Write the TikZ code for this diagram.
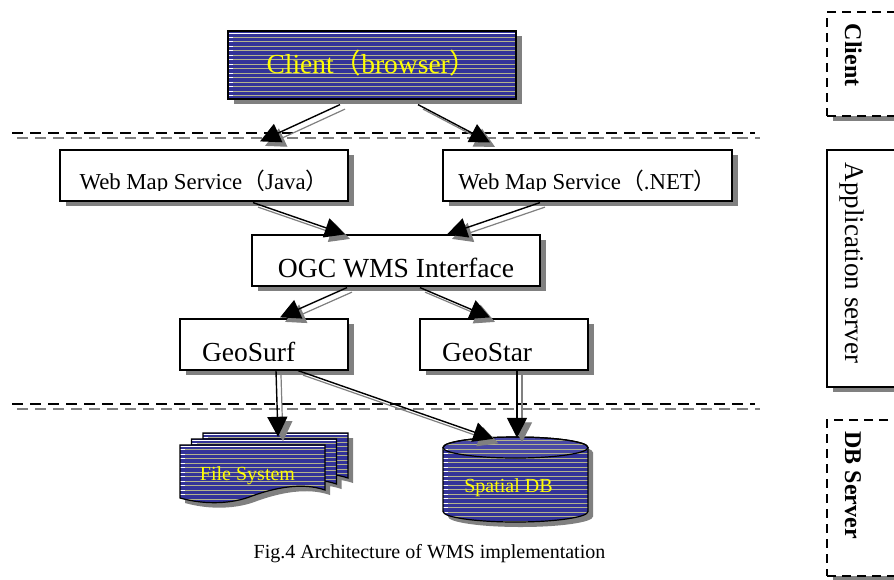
\documentclass[tikz,border=0pt]{standalone}
\usepackage{fontspec}
\setmainfont{Liberation Serif}
\newfontfamily\cjk{Noto Sans CJK SC}
\usetikzlibrary{arrows.meta,shadows}
\definecolor{dblue}{RGB}{51,51,153}
\definecolor{lblue}{RGB}{72,72,165}
\definecolor{hatchc}{RGB}{178,178,140}
\definecolor{shgray}{RGB}{128,128,128}
\definecolor{ytext}{RGB}{255,255,0}
\newcommand{\lp}{{\cjk （}}
\newcommand{\rp}{{\cjk ）}}
\newcommand{\sheetpath}{(180,445) -- (325,445) -- (325,490) .. controls (302,482) and (274,488) .. (252,496) .. controls (232,504) and (205,505) .. (180,498) -- cycle}
\newcommand{\cylbody}{(443,447.5) -- (443,511.5) arc[start angle=180,end angle=360,x radius=72.5pt,y radius=10.5pt] -- (588,447.5) arc[start angle=0,end angle=180,x radius=72.5pt,y radius=10.5pt] -- cycle}
% #1,#2: x range, #3: first y, #4: number of lines
\newcommand{\hatchlines}[4]{%
  \foreach \k in {0,...,#4}{\pgfmathsetmacro\yy{#3+4.5*\k}%
    \draw[hatchc,line width=0.7pt] (#1,\yy) -- (#2,\yy);
    \draw[white,line width=0.7pt] (#1,\yy) -- ++(5,0);}}
% white cover that cuts the text at its baseline, as in the reference
\newcommand{\textcut}[2]{\fill[white] ([xshift=1.5pt,yshift=1.5pt]#1.south west) rectangle ([xshift=-1.5pt,yshift=#2]#1.south east);}
\tikzset{
  box/.style={draw=black, line width=1.2pt, fill=white, inner xsep=0pt, inner ysep=0pt,
    drop shadow={shadow xshift=6pt, shadow yshift=-5pt, fill=shgray, opacity=1}},
  hatched/.style={fill=dblue, path picture={
    \foreach \i in {1,...,40}{
      \draw[hatchc, line width=0.7pt] ([yshift={-\i*4.5pt-1.5pt}]path picture bounding box.north west) -- ([yshift={-\i*4.5pt-1.5pt}]path picture bounding box.north east);
      \draw[white, line width=0.7pt] ([yshift={-\i*4.5pt-1.5pt}]path picture bounding box.north west) -- ([yshift={-\i*4.5pt-1.5pt},xshift=5pt]path picture bounding box.north west);}
    \draw[white, line width=0.7pt] ([yshift=-2pt]path picture bounding box.north west) -- ([yshift=-2pt]path picture bounding box.north east);}},
  conn/.style={line width=1.4pt, draw=black, -{Triangle[length=20pt,width=20pt]}},
  connsh/.style={line width=1.2pt, draw=shgray, -{Triangle[length=20pt,width=20pt]}, transform canvas={xshift=5pt,yshift=-4.5pt}},
  sep/.style={line width=2pt, dash pattern=on 10.5pt off 7.5pt},
  sidebox/.style={draw=black, line width=1.4pt, fill=white, minimum width=80pt, inner sep=0pt,
    drop shadow={shadow xshift=6pt, shadow yshift=-5pt, fill=shgray, opacity=1}},
  sidedash/.style={sidebox, dash pattern=on 9pt off 6pt},
  sidetext/.style={rotate=-90, anchor=base, inner sep=0pt},
  ytxt/.style={text=ytext, inner sep=0pt, anchor=base}
}
\newcommand{\conn}[2]{\draw[connsh] #1 -- #2; \draw[conn] #1 -- #2;}
\begin{document}
\begin{tikzpicture}[x=1pt,y=-1pt]
\useasboundingbox (0,0) rectangle (894,579);
\fill[white] (0,0) rectangle (894,579);

% separators
\draw[sep, shgray] (17,138) -- (760,138);
\draw[sep, black] (12,133) -- (755,133);
\draw[sep, shgray] (17,409) -- (760,409);
\draw[sep, black] (12,404) -- (755,404);

% nodes
\node[box, hatched, minimum width=288pt, text height=42pt, text depth=26pt, text=ytext,
  font=\fontsize{27.5}{32}\selectfont] (client) at (372,65) {Client\lp browser\rp};
\node[box, minimum width=288pt, text height=39pt, text depth=12pt,
  font=\fontsize{22.8}{26}\selectfont] (java) at (204,175.5) {Web Map Service\lp Java\rp};
\node[box, minimum width=289pt, text height=39pt, text depth=12pt,
  font=\fontsize{22.8}{26}\selectfont] (net) at (587.5,175.5) {Web Map Service\lp .NET\rp};
\node[box, minimum width=288pt, text height=42pt, text depth=9pt,
  font=\fontsize{27.6}{32}\selectfont] (ogc) at (396,260.5) {OGC WMS Interface};
\node[box, text width=124pt, inner xsep=22pt, align=left, text height=42pt, text depth=9pt,
  font=\fontsize{27.5}{32}\selectfont] (geosurf) at (264,344.5) {GeoSurf};
\node[box, text width=124pt, inner xsep=22pt, align=left, text height=42pt, text depth=9pt,
  font=\fontsize{27.5}{32}\selectfont] (geostar) at (504,344.5) {GeoStar};
\textcut{java}{11pt}
\textcut{net}{11pt}
\textcut{geosurf}{9.4pt}
\textcut{geostar}{9.4pt}

% file system stack
\foreach \dx/\dy in {23/-12, 11.5/-6, 0/0}{
  \fill[shgray, shift={(\dx+5,\dy+5)}] \sheetpath;}
\foreach \dx/\dy in {23/-12, 11.5/-6, 0/0}{
  \begin{scope}[shift={(\dx,\dy)}]
    \begin{scope}
      \clip \sheetpath;
      \fill[dblue] (170,430) rectangle (340,510);
      \hatchlines{180}{340}{449.5}{14}
      \draw[white, line width=0.7pt] (170,446.8) -- (340,446.8);
    \end{scope}
    \draw[line width=1.2pt] \sheetpath;
  \end{scope}}
\node[minimum width=168pt, minimum height=70pt, inner sep=0pt] (fsys) at (264,468) {};
\node[ytxt, font=\fontsize{20}{24}\selectfont] (fstext) at (247.5,480) {File System};

% spatial DB cylinder
\fill[shgray, shift={(5,5)}] \cylbody;
\begin{scope}
  \clip \cylbody;
  \fill[dblue] (440,430) rectangle (600,530);
  \hatchlines{443}{600}{440}{20}
\end{scope}
\fill[lblue] (515.5,447.5) ellipse [x radius=72.5pt, y radius=10.5pt];
\begin{scope}
  \clip (515.5,447.5) ellipse [x radius=72.5pt, y radius=10.5pt];
  \hatchlines{443}{600}{440}{4}
\end{scope}
\draw[line width=1.2pt] \cylbody;
\draw[line width=1.2pt] (515.5,447.5) ellipse [x radius=72.5pt, y radius=10.5pt];
\node[minimum width=145pt, minimum height=85pt, inner sep=0pt] (sdb) at (515.5,479.5) {};
\node[ytxt, font=\fontsize{20}{24}\selectfont] (sdbtext) at (508.5,492) {Spatial DB};

% connectors
\conn{([xshift=-32pt,yshift=-5pt]client.south)}{([xshift=56pt,yshift=8pt]java.north)}
\conn{([xshift=46pt,yshift=-5pt]client.south)}{([xshift=-97.5pt,yshift=7pt]net.north)}
\conn{([xshift=49pt,yshift=-1pt]java.south)}{([xshift=-51pt]ogc.north)}
\conn{([xshift=-47.5pt,yshift=-1pt]net.south)}{([xshift=51pt]ogc.north)}
\conn{([xshift=-49pt,yshift=-1pt]ogc.south)}{([xshift=16pt,yshift=1pt]geosurf.north)}
\conn{([xshift=24pt,yshift=-1pt]ogc.south)}{([xshift=-14pt,yshift=1pt]geostar.north)}
\conn{([xshift=12pt]geosurf.south)}{([xshift=14pt,yshift=-4pt]fsys.north)}
\conn{([xshift=34pt]geosurf.south)}{([xshift=-22pt,yshift=-2pt]sdb.north)}
\conn{([xshift=13pt]geostar.south)}{([xshift=1.5pt,yshift=-1pt]sdb.north)}

% caption
\node[anchor=base, inner sep=0pt, font=\fontsize{20}{24}\selectfont] (caption) at (429.5,558) {Fig.4 Architecture of WMS implementation};

% side boxes
\node[sidedash, minimum height=104pt] (sclient) at (867,64) {};
\node[sidebox, minimum height=237pt] (sapp) at (867,268.5) {};
\node[sidedash, minimum height=156pt] (sdbs) at (867,498) {};
\node[sidetext, font=\fontsize{24}{28}\selectfont\bfseries] (tclient) at (845,55) {Client};
\node[sidetext, font=\fontsize{27}{31}\selectfont] (tapp) at (845,263) {Application server};
\node[sidetext, font=\fontsize{24}{28}\selectfont\bfseries] (tdb) at (845,485) {DB Server};
\end{tikzpicture}
\end{document}
